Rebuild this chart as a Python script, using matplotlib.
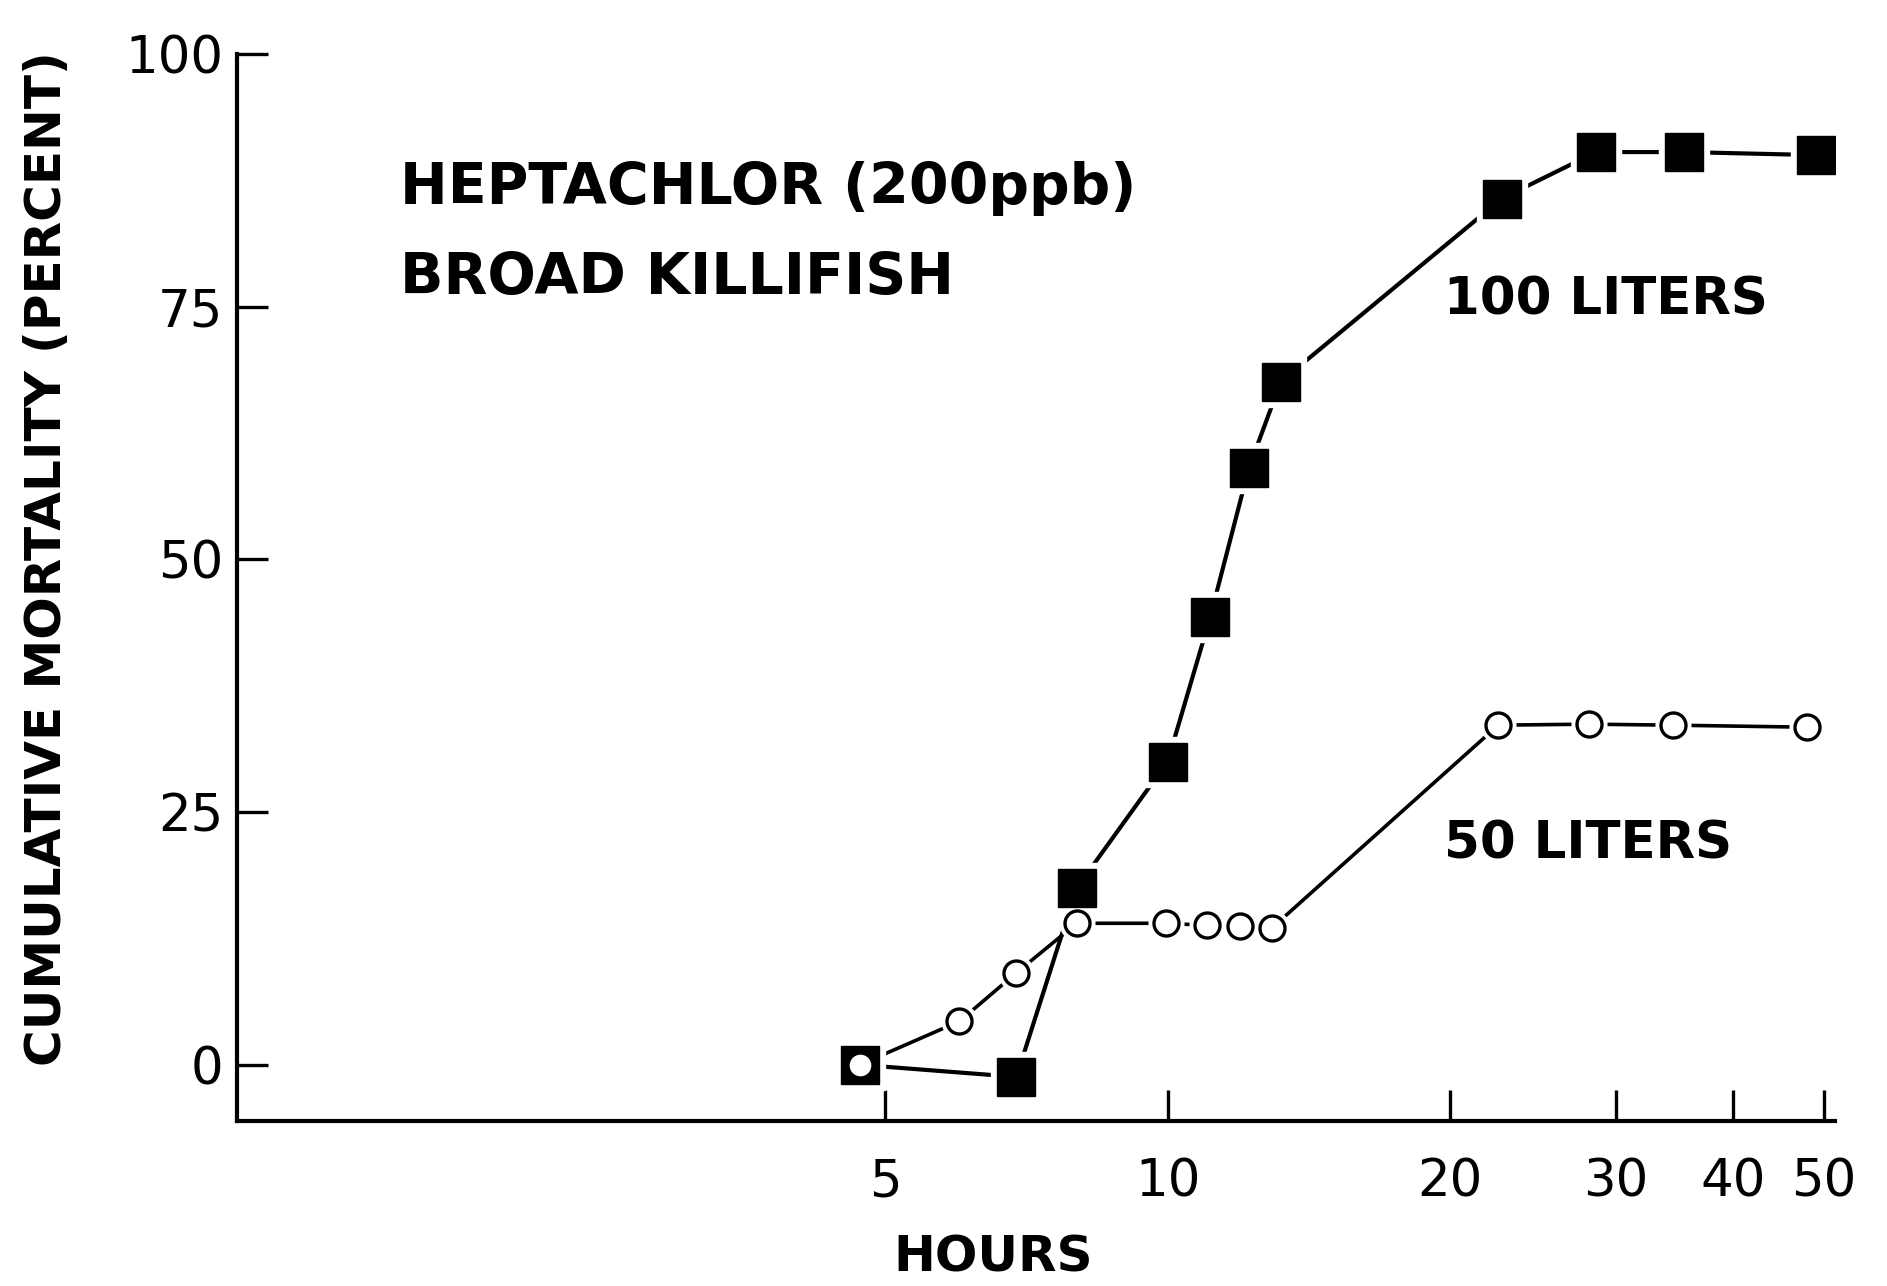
import matplotlib
matplotlib.use("Agg")
import matplotlib.pyplot as plt
from matplotlib.ticker import FixedLocator, FixedFormatter, NullLocator

# hours (log axis) and cumulative mortality (%)
hours_100 = [4.7, 6.9, 8.0, 10.0, 11.1, 12.2, 13.2, 22.7, 28.6, 35.5, 49.0]
mort_100 = [0.0, -1.2, 17.5, 30.0, 44.3, 59.0, 67.6, 85.7, 90.3, 90.3, 90.0]

hours_50 = [4.7, 6.0, 6.9, 8.0, 9.95, 11.0, 11.95, 12.9, 22.5, 28.1, 34.5, 48.0]
mort_50 = [0.0, 4.3, 9.1, 14.0, 14.0, 13.8, 13.7, 13.5, 33.6, 33.7, 33.6, 33.4]

x_ticks = [5, 10, 20, 30, 40, 50]
x_labels = ["5", "10", "20", "30", "40", "50"]
y_ticks = [0, 25, 50, 75, 100]
y_labels = ["0", "25", "50", "75", "100"]

plt.rcParams['font.family'] = ['DejaVu Sans']

fig = plt.figure(figsize=(18.87, 12.86), dpi=100)
ax = fig.add_axes([0.1256, 0.128, 0.8469, 0.830])

ax.set_xscale("log")
ax.set_xlim(1.02, 51.4)
ax.set_ylim(-5.6, 100)

# connecting lines
ax.plot(hours_50, mort_50, color="black", lw=2.6, zorder=1)
ax.plot(hours_100, mort_100, color="black", lw=3.0, zorder=1)
# white halos leave small gaps between lines and markers
ax.plot(hours_100, mort_100, ls="none", marker="s", ms=36, mfc="white", mec="white", zorder=2)
ax.plot(hours_50, mort_50, ls="none", marker="o", ms=25, mfc="white", mec="white", zorder=2)
ax.plot(hours_100, mort_100, ls="none", marker="s", ms=28, mfc="black", mec="black", zorder=3)
ax.plot(hours_50, mort_50, ls="none", marker="o", ms=18, mfc="white", mec="black", mew=2.4, zorder=4)

for side in ["top", "right"]:
    ax.spines[side].set_visible(False)
for side in ["left", "bottom"]:
    ax.spines[side].set_linewidth(3)

ax.xaxis.set_major_locator(FixedLocator(x_ticks))
ax.xaxis.set_major_formatter(FixedFormatter(x_labels))
ax.xaxis.set_minor_locator(NullLocator())
ax.yaxis.set_major_locator(FixedLocator(y_ticks))
ax.yaxis.set_major_formatter(FixedFormatter(y_labels))

ax.tick_params(axis="both", direction="in", length=22, width=2.4, labelsize=37)
ax.tick_params(axis="x", pad=26)
ax.tick_params(axis="y", pad=10)

ax.set_xlabel("HOURS", fontsize=36, fontweight="bold")
ax.xaxis.set_label_coords(0.473, -0.105)
ax.set_ylabel("CUMULATIVE MORTALITY (PERCENT)", fontsize=36, fontweight="bold")
ax.yaxis.set_label_coords(-0.104, 0.527)

ax.text(1.52, 86.7, "HEPTACHLOR (200ppb)", fontsize=41, fontweight="bold", va="center")
ax.text(1.52, 77.8, "BROAD KILLIFISH", fontsize=41, fontweight="bold", va="center")
ax.text(19.7, 75.6, "100 LITERS", fontsize=37, fontweight="bold", va="center")
ax.text(19.7, 21.8, "50 LITERS", fontsize=37, fontweight="bold", va="center")

fig.savefig("out.png", dpi=100, facecolor="white")
